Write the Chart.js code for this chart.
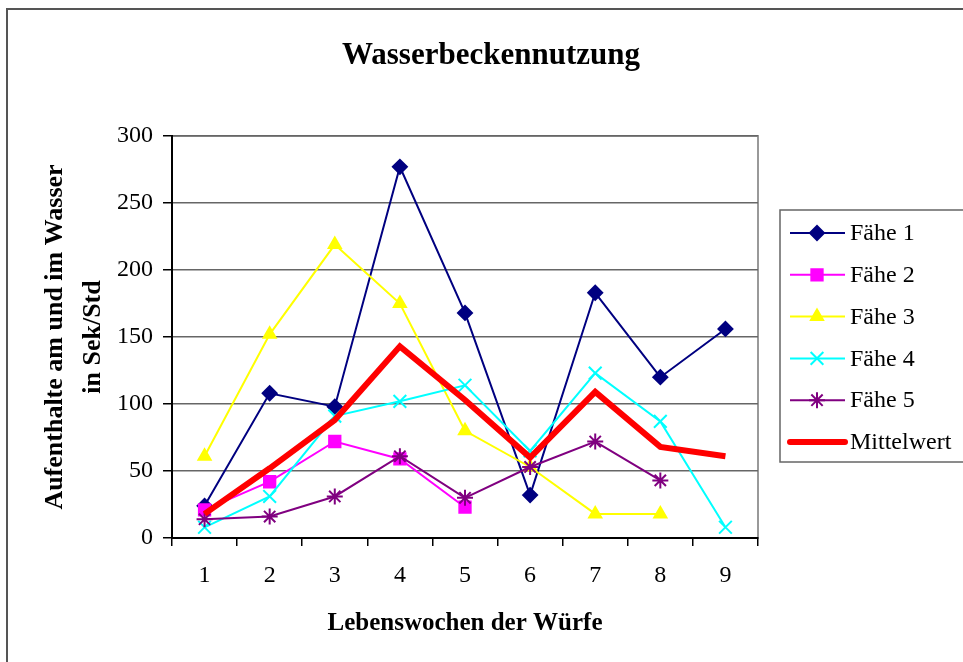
<!DOCTYPE html>
<html>
<head>
<meta charset="utf-8">
<script src="https://cdn.jsdelivr.net/npm/chart.js@4/dist/chart.umd.min.js"></script>
<style>
  body { margin: 0; background: #fff; }
  #wrap { width: 963px; height: 662px; position: relative; }
</style>
</head>
<body>
<div id="wrap"><canvas id="myChart"></canvas></div>
<script>
  // data
  var wochen = ["1", "2", "3", "4", "5", "6", "7", "8", "9"];
  var faehe1 = [24, 108, 98, 277, 168, 32, 183, 120, 156];
  var faehe2 = [21, 42, 72, 59, 23, null, null, null, null];
  var faehe3 = [61, 152, 219, 175, 80, 53, 18, 18, null];
  var faehe4 = [8, 31, 91, 102, 114, 65, 123, 87, 8];
  var faehe5 = [14, 16, 31, 61, 30, 53, 72, 43, null];
  var mittelwert = [18, 52, 88, 143, 103, 60, 109, 68, 61];
  var yTicks = [0, 50, 100, 150, 200, 250, 300];

  var serif = "'Liberation Serif', 'Times New Roman', serif";

  // one line per series
  function series(label, data, color, style, radius, width, order){
    return {
      label: label,
      data: data,
      borderColor: color,
      backgroundColor: color,
      borderWidth: width,
      pointStyle: style,
      pointRadius: radius,
      pointHoverRadius: radius,
      pointBorderWidth: 2,
      pointBorderColor: color,
      pointBackgroundColor: color,
      tension: 0,
      spanGaps: false,
      order: order
    };
  }

  var datasets = [
    series("Fähe 1", faehe1, "#000080", "rectRot", 7, 2, 6),
    series("Fähe 2", faehe2, "#FF00FF", "rect", 8, 2, 5),
    series("Fähe 3", faehe3, "#FFFF00", "triangle", 7, 2, 4),
    series("Fähe 4", faehe4, "#00FFFF", "crossRot", 9, 2, 3),
    series("Fähe 5", faehe5, "#800080", "star", 8, 2, 2),
    series("Mittelwert", mittelwert, "#FF0000", false, 0, 6, 1)
  ];

  // frame, title and legend box drawn by hand
  var extras = {
    id: "extras",
    beforeDraw: function(chart){
      var ctx = chart.ctx;
      var a = chart.chartArea;
      ctx.save();
      ctx.fillStyle = "#fff";
      ctx.fillRect(0, 0, chart.width, chart.height);
      ctx.strokeStyle = "#555";
      ctx.lineWidth = 2;
      ctx.strokeRect(7, 9, chart.width + 10, chart.height + 10);
      ctx.strokeStyle = "#999";
      ctx.lineWidth = 2;
      ctx.strokeRect(a.left, a.top, a.right - a.left, a.bottom - a.top);
      ctx.restore();
    },
    afterDraw: function(chart){
      var ctx = chart.ctx;
      ctx.save();
      ctx.fillStyle = "#000";
      ctx.font = "bold 31px " + serif;
      ctx.textAlign = "center";
      ctx.textBaseline = "alphabetic";
      ctx.fillText("Wasserbeckennutzung", 491, 64);

      // legend
      ctx.strokeStyle = "#666";
      ctx.lineWidth = 1.5;
      ctx.strokeRect(780, 210, 200, 252);
      ctx.font = "24px " + serif;
      ctx.textAlign = "left";
      ctx.textBaseline = "middle";
      chart.data.datasets.forEach(function(ds, i){
        var y = 233 + i * 41.8;
        ctx.strokeStyle = ds.borderColor;
        ctx.lineWidth = ds.borderWidth;
        ctx.lineCap = ds.borderWidth > 3 ? "round" : "butt";
        ctx.beginPath();
        ctx.moveTo(790, y);
        ctx.lineTo(845, y);
        ctx.stroke();
        if (ds.pointStyle && Chart.helpers && Chart.helpers.drawPoint) {
          ctx.fillStyle = ds.backgroundColor;
          ctx.lineWidth = 2;
          Chart.helpers.drawPoint(ctx, {pointStyle: ds.pointStyle, radius: ds.pointRadius, borderWidth: 2, rotation: 0}, 817, y);
        }
        ctx.fillStyle = "#000";
        ctx.fillText(ds.label, 850, y + 1);
      });
      ctx.restore();
    }
  };

  var ctx = document.getElementById("myChart").getContext("2d");
  var myChart = new Chart(ctx, {
    type: "line",
    data: {
      labels: wochen,
      datasets: datasets
    },
    options: {
      responsive: true,
      maintainAspectRatio: false,
      animation: false,
      events: [],
      layout: { padding: { left: 0, top: 136, right: 205, bottom: 0 } },
      plugins: {
        legend: { display: false },
        title: { display: false },
        tooltip: { enabled: false }
      },
      scales: {
        x: {
          type: "category",
          offset: true,
          afterFit: function(scale){ scale.height = 124; },
          grid: {
            offset: true,
            drawOnChartArea: false,
            drawTicks: true,
            tickLength: 8,
            tickColor: "#000",
            lineWidth: 1.5
          },
          border: { color: "#000", width: 2 },
          ticks: {
            color: "#000",
            padding: 15,
            font: { family: serif, size: 24 },
            maxRotation: 0
          },
          title: {
            display: true,
            text: "Lebenswochen der Würfe",
            color: "#000",
            font: { family: serif, size: 25, weight: "bold" },
            padding: { top: 0, bottom: 23 }
          }
        },
        y: {
          min: 0,
          max: 300,
          afterFit: function(scale){ scale.width = 172; },
          afterBuildTicks: function(scale){
            scale.ticks = yTicks.map(function(v){ return { value: v }; });
          },
          grid: {
            color: "#666",
            lineWidth: 1.5,
            tickLength: 9,
            tickColor: "#000"
          },
          border: { color: "#000", width: 2 },
          ticks: {
            color: "#000",
            padding: 10,
            font: { family: serif, size: 24 }
          },
          title: {
            display: true,
            text: ["Aufenthalte am und im Wasser", "in Sek/Std"],
            color: "#000",
            font: { family: serif, size: 26, weight: "bold", lineHeight: 1.46 },
            padding: { top: 36, bottom: 0 }
          }
        }
      }
    },
    plugins: [extras]
  });
</script>
</body>
</html>
